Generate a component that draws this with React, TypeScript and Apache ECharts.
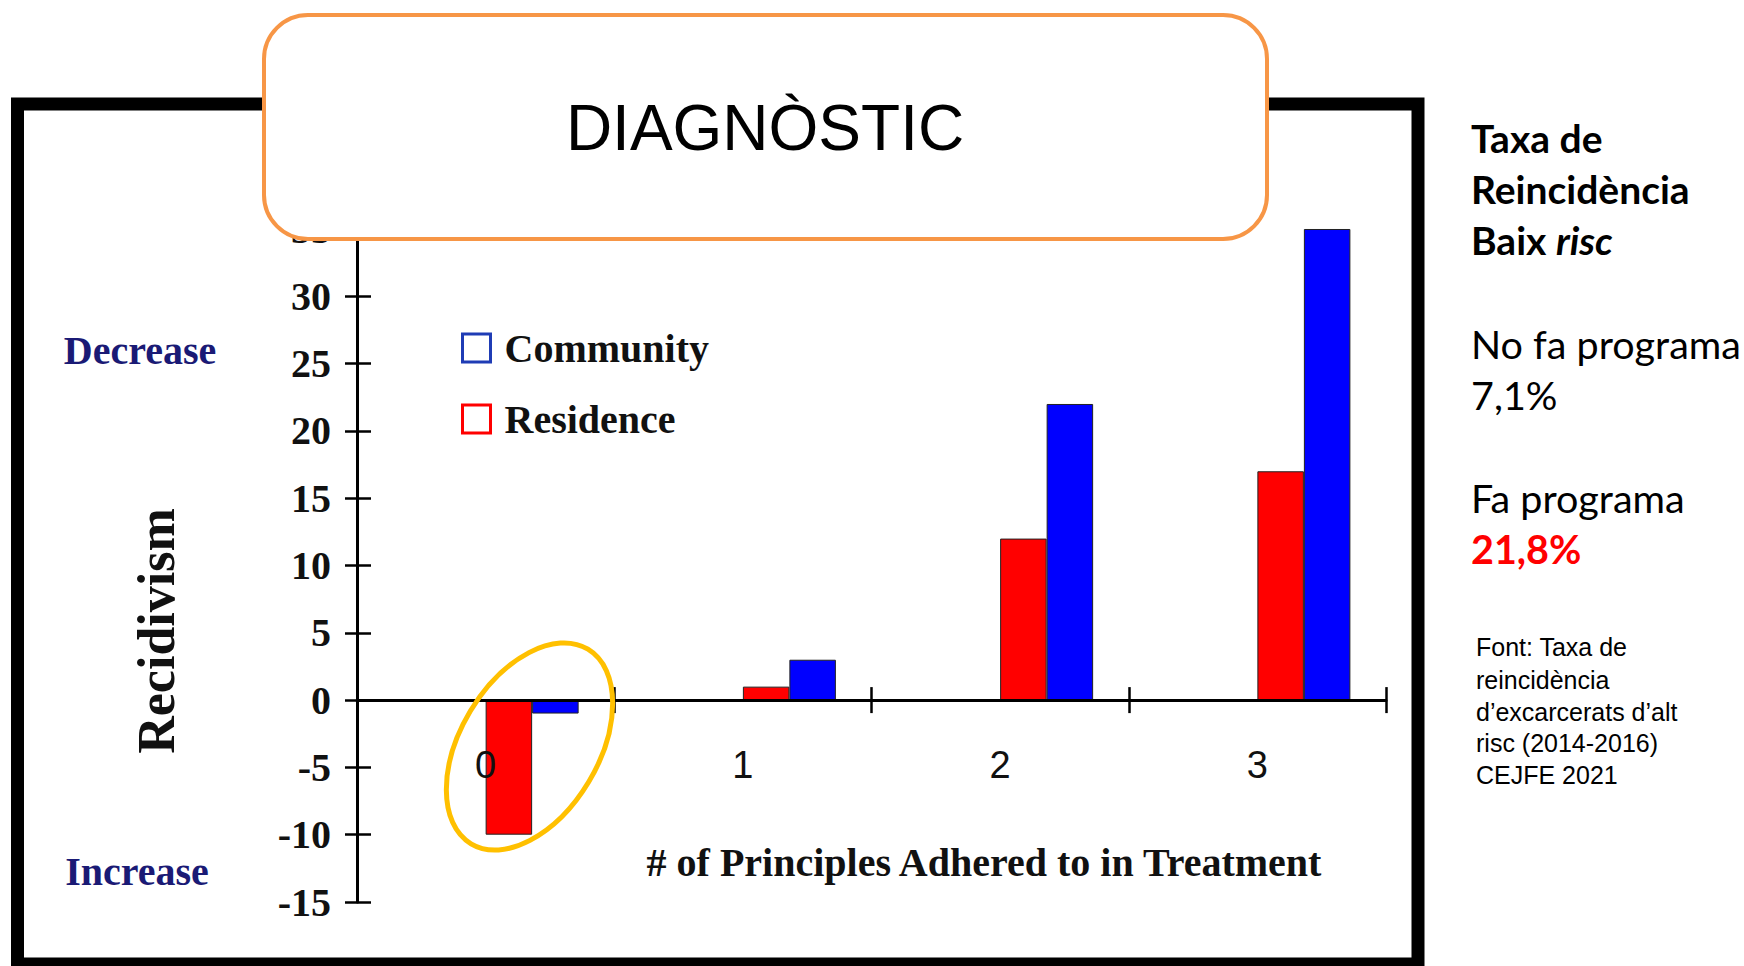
import React, { useEffect, useRef } from 'react';
import * as echarts from 'echarts';

// ---- data ----
const categories = ['0', '1', '2', '3'];
const residence = [-10, 1, 12, 17];
const community = [-1, 3, 22, 35];
const yMin = -15;
const yMax = 35;
const yStep = 5;
const legendNames = ['Community', 'Residence'];
const panelTitle = 'DIAGNÒSTIC';
const xName = '# of Principles Adhered to in Treatment';
const yName = 'Recidivism';
const upLabel = 'Decrease';
const downLabel = 'Increase';
const sideHeading = ['Taxa de', 'Reincidència'];
const sideRates = ['No fa programa', '7,1%', 'Fa programa', '21,8%'];
const sourceLines = ['Font: Taxa de', 'reincidència', 'd\u2019excarcerats d\u2019alt', 'risc (2014-2016)', 'CEJFE 2021'];

const SERIF = "'Liberation Serif', 'Times New Roman', serif";
const SANS = "'Liberation Sans', Arial, sans-serif";
const SIDE = "Lato, 'Open Sans', sans-serif";

const RED = '#ff0000';
const BLUE = '#0000ff';

const GRID_TOP = 229;
const GRID_H = 673;

function buildOption(): any {
  const pad = categories.map(() => '-');
  const barCommon = { barWidth: 46.5, barGap: '0%', itemStyle: { borderColor: '#222', borderWidth: 1 } };
  // distance from grid bottom up to the value 0 (so the category axis sits on zero)
  const zeroOffset = -(GRID_H * (0 - yMin)) / (yMax - yMin);

  const graphic: any[] = [
    { type: 'rect', shape: { x: 17.5, y: 104, width: 1400.5, height: 860 }, style: { fill: 'none', stroke: '#000', lineWidth: 13 }, z: 1 },
    {
      type: 'ellipse', x: 529.5, y: 746.5, rotation: (-31 * Math.PI) / 180,
      shape: { cx: 0, cy: 0, rx: 69, ry: 113.5 },
      style: { fill: 'none', stroke: '#FFC000', lineWidth: 5 }, z: 100,
    },
    { type: 'rect', shape: { x: 264, y: 15, width: 1003, height: 224, r: 44 }, style: { fill: '#fff', stroke: '#F79646', lineWidth: 4 }, z: 100 },
    { type: 'text', x: 765, y: 128, style: { text: panelTitle, font: `64px ${SANS}`, fill: '#000', align: 'center', verticalAlign: 'middle' }, z: 101 },
    { type: 'text', x: 156, y: 631, rotation: Math.PI / 2, style: { text: yName, font: `bold 52px ${SERIF}`, fill: '#111', align: 'center', verticalAlign: 'middle' }, z: 10 },
    { type: 'text', x: 140, y: 350, style: { text: upLabel, font: `bold 40px ${SERIF}`, fill: '#1a1a75', align: 'center', verticalAlign: 'middle' }, z: 10 },
    { type: 'text', x: 137, y: 871, style: { text: downLabel, font: `bold 40px ${SERIF}`, fill: '#1a1a75', align: 'center', verticalAlign: 'middle' }, z: 10 },
    { type: 'text', x: 984, y: 862, style: { text: xName, font: `bold 40px ${SERIF}`, fill: '#111', align: 'center', verticalAlign: 'middle' }, z: 10 },
    { type: 'text', x: 1471, y: 138, style: { text: sideHeading[0], font: `bold 39px ${SIDE}`, fill: '#000', verticalAlign: 'middle' } },
    { type: 'text', x: 1471, y: 189, style: { text: sideHeading[1], font: `bold 39px ${SIDE}`, fill: '#000', verticalAlign: 'middle' } },
    {
      type: 'text', x: 1471, y: 240,
      style: {
        text: '{b|Baix }{bi|risc}', verticalAlign: 'middle',
        rich: {
          b: { fontFamily: SIDE, fontWeight: 'bold', fontSize: 39, fill: '#000', color: '#000' },
          bi: { fontFamily: SIDE, fontWeight: 'bold', fontStyle: 'italic', fontSize: 39, fill: '#000', color: '#000' },
        },
      },
    },
    { type: 'text', x: 1471, y: 343, style: { text: sideRates[0], font: `39.5px ${SIDE}`, fill: '#000', verticalAlign: 'middle' } },
    { type: 'text', x: 1471, y: 394, style: { text: sideRates[1], font: `39.5px ${SIDE}`, fill: '#000', verticalAlign: 'middle' } },
    { type: 'text', x: 1471, y: 497, style: { text: sideRates[2], font: `39.5px ${SIDE}`, fill: '#000', verticalAlign: 'middle' } },
    { type: 'text', x: 1471, y: 548, style: { text: sideRates[3], font: `bold 39.5px ${SIDE}`, fill: RED, verticalAlign: 'middle' } },
  ];
  const srcY = [647, 680, 712, 743, 775];
  sourceLines.forEach((t, i) => {
    graphic.push({ type: 'text', x: 1476, y: srcY[i], style: { text: t, font: `25px ${SANS}`, fill: '#000', verticalAlign: 'middle' } });
  });

  const valueAxisBase = {
    type: 'value', min: yMin, max: yMax, interval: yStep, position: 'left',
    splitLine: { show: false },
  };

  return {
    animation: false,
    backgroundColor: '#fff',
    grid: { left: 357, top: GRID_TOP, width: 1029, height: GRID_H, containLabel: false, outerBoundsMode: 'none' },
    legend: {
      data: [
        { name: legendNames[0], itemStyle: { color: 'transparent', borderColor: '#1f3cb5', borderWidth: 3 } },
        { name: legendNames[1], itemStyle: { color: 'transparent', borderColor: RED, borderWidth: 3 } },
      ],
      orient: 'vertical', left: 461, top: 328, padding: 0,
      icon: 'rect', itemWidth: 28, itemHeight: 28, itemGap: 31,
      selectedMode: false,
      textStyle: { fontFamily: SERIF, fontWeight: 'bold', fontSize: 40, color: '#111', lineHeight: 40, padding: [0, 0, 0, 9] },
    },
    xAxis: [
      {
        type: 'category', data: categories, position: 'bottom', offset: zeroOffset, z: 3,
        axisLine: { onZero: false, lineStyle: { color: '#000', width: 3 } },
        axisTick: { show: true, length: 13, lineStyle: { color: '#000', width: 2.5 } },
        axisLabel: { margin: 46, fontFamily: SANS, fontSize: 38, color: '#111' },
        splitLine: { show: false },
      },
      {
        type: 'category', data: categories, position: 'bottom', offset: zeroOffset, z: 3,
        axisLine: { show: false, onZero: false },
        axisTick: { show: true, inside: true, length: 13, lineStyle: { color: '#000', width: 2.5 } },
        axisLabel: { show: false },
        splitLine: { show: false },
      },
    ],
    yAxis: [
      {
        ...valueAxisBase,
        axisLine: { show: true, lineStyle: { color: '#000', width: 3 } },
        axisTick: { show: true, length: 12, lineStyle: { color: '#000', width: 2.5 } },
        axisLabel: { margin: 26, fontFamily: SERIF, fontWeight: 'bold', fontSize: 40, color: '#111' },
      },
      {
        ...valueAxisBase,
        axisLine: { show: false },
        axisTick: { show: true, inside: true, length: 14, lineStyle: { color: '#000', width: 2.5 } },
        axisLabel: { show: false },
      },
    ],
    series: [
      { type: 'bar', name: 'pad1', data: pad, ...barCommon, silent: true },
      { type: 'bar', name: 'pad2', data: pad, ...barCommon, silent: true },
      { type: 'bar', name: legendNames[1], data: residence, ...barCommon, itemStyle: { color: RED, borderColor: '#222', borderWidth: 1 } },
      { type: 'bar', name: legendNames[0], data: community, ...barCommon, itemStyle: { color: BLUE, borderColor: '#222', borderWidth: 1 } },
    ],
    graphic,
  };
}

export default function App() {
  const ref = useRef<HTMLDivElement>(null);
  useEffect(() => {
    if (!ref.current) return;
    const chart = echarts.init(ref.current, null, { renderer: 'svg' });
    chart.setOption(buildOption());
    return () => chart.dispose();
  }, []);
  return (
    <div
      ref={ref}
      style={{ position: 'fixed', left: 0, top: 0, width: 1744, height: 966, background: '#fff' }}
    />
  );
}
